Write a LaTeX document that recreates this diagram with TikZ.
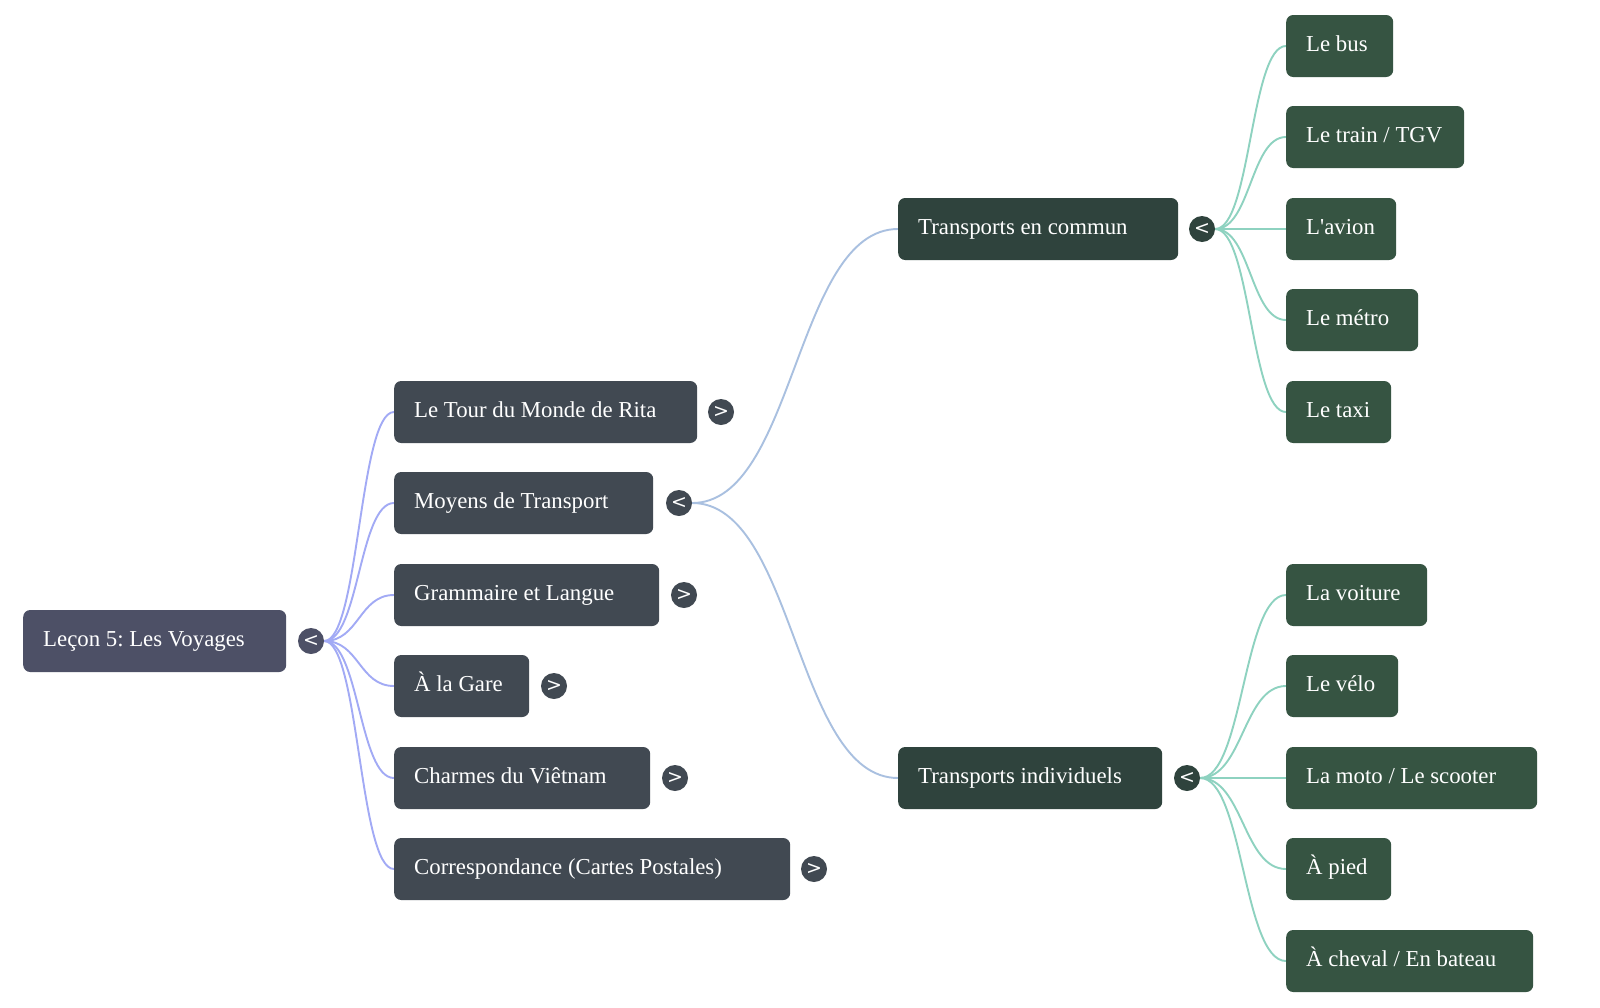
\documentclass[tikz,border=0pt]{standalone}
\usepackage{fontspec}
\setmainfont{Liberation Serif}
\newfontfamily\togfont{DejaVu Sans}
\usetikzlibrary{backgrounds,calc}
\definecolor{rootc}{HTML}{4D5066}
\definecolor{lonec}{HTML}{414952}
\definecolor{tc}{HTML}{2F433D}
\definecolor{leafc}{HTML}{365442}
\definecolor{eone}{HTML}{A2AAF5}
\definecolor{etwo}{HTML}{A9C0E0}
\definecolor{ethree}{HTML}{8ED2C0}
\newcommand\lbx[2]{\makebox[#1][l]{#2}}
\tikzset{
  box/.style={rounded corners=7pt, minimum height=62pt, inner xsep=20pt, inner ysep=0pt,
    anchor=west, text=white, font=\fontsize{22.8}{27}\selectfont\frenchspacing,
    text height=16pt, text depth=5pt},
  tog/.style={circle, minimum size=26pt, inner sep=0pt, text=white,
    font=\togfont\fontsize{19}{19}\selectfont},
  bez/.style={to path={let \p1=(\tikztostart), \p2=(\tikztotarget) in
    .. controls ({(\x1+\x2)/2},\y1) and ({(\x1+\x2)/2},\y2) .. (\tikztotarget)}},
  edge/.style={line width=1.9pt}
}
\begin{document}
\begin{tikzpicture}[x=1pt,y=-1pt]
\useasboundingbox (0,0) rectangle (1600,1007);
% root
\node[box, fill=rootc] (root) at (23,641) {\lbx{223pt}{Leçon 5: Les Voyages}};
\node[tog, fill=rootc] (troot) at (311,641) {<};
% level 1
\node[box, fill=lonec] (tour) at (394,412) {\lbx{263pt}{Le Tour du Monde de Rita}};
\node[tog, fill=lonec] (ttour) at (721,412) {>};
\node[box, fill=lonec] (moyens) at (394,503) {\lbx{219pt}{Moyens de Transport}};
\node[tog, fill=lonec] (tmoyens) at (679,503) {<};
\node[box, fill=lonec] (gram) at (394,595) {\lbx{225pt}{Grammaire et Langue}};
\node[tog, fill=lonec] (tgram) at (684,595) {>};
\node[box, fill=lonec] (gare) at (394,686) {\lbx{95pt}{À la Gare}};
\node[tog, fill=lonec] (tgare) at (554,686) {>};
\node[box, fill=lonec] (charmes) at (394,778) {\lbx{216pt}{Charmes du Viêtnam}};
\node[tog, fill=lonec] (tcharmes) at (675,778) {>};
\node[box, fill=lonec] (corr) at (394,869) {\lbx{356pt}{Correspondance (Cartes Postales)}};
\node[tog, fill=lonec] (tcorr) at (814,869) {>};
% level 2
\node[box, fill=tc] (commun) at (898,229) {\lbx{240pt}{Transports en commun}};
\node[tog, fill=tc] (tcommun) at (1202,229) {<};
\node[box, fill=tc] (indiv) at (898,778) {\lbx{224pt}{Transports individuels}};
\node[tog, fill=tc] (tindiv) at (1187,778) {<};
% leaves
\node[box, fill=leafc] (bus) at (1286,46) {\lbx{67pt}{Le bus}};
\node[box, fill=leafc] (train) at (1286,137) {\lbx{138pt}{Le train / TGV}};
\node[box, fill=leafc] (avion) at (1286,229) {\lbx{70pt}{L\textquotesingle avion}};
\node[box, fill=leafc] (metro) at (1286,320) {\lbx{92pt}{Le métro}};
\node[box, fill=leafc] (taxi) at (1286,412) {\lbx{65pt}{Le taxi}};
\node[box, fill=leafc] (voiture) at (1286,595) {\lbx{101pt}{La voiture}};
\node[box, fill=leafc] (velo) at (1286,686) {\lbx{72pt}{Le vélo}};
\node[box, fill=leafc] (moto) at (1286,778) {\lbx{211pt}{La moto / Le scooter}};
\node[box, fill=leafc] (pied) at (1286,869) {\lbx{65pt}{À pied}};
\node[box, fill=leafc] (cheval) at (1286,961) {\lbx{207pt}{À cheval / En bateau}};
% connectors
\begin{scope}[on background layer]
\fill[white] (0,0) rectangle (1600,1007);
\foreach \t in {tour,moyens,gram,gare,charmes,corr}
  \draw[edge, eone] (troot.east) to[bez] (\t.west);
\foreach \t in {commun,indiv}
  \draw[edge, etwo] (tmoyens.east) to[bez] (\t.west);
\foreach \t in {bus,train,avion,metro,taxi}
  \draw[edge, ethree] (tcommun.east) to[bez] (\t.west);
\foreach \t in {voiture,velo,moto,pied,cheval}
  \draw[edge, ethree] (tindiv.east) to[bez] (\t.west);
\end{scope}
\end{tikzpicture}
\end{document}
